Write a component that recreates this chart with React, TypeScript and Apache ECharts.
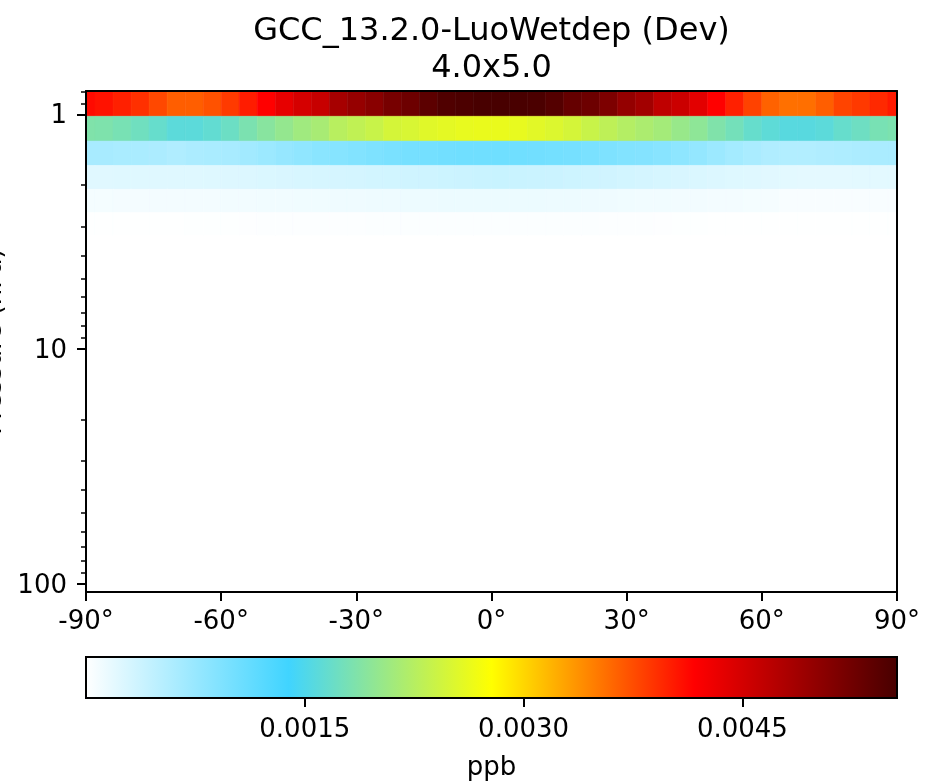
import React, { useEffect, useRef } from "react";
import * as echarts from "echarts";

const TITLE = "GCC_13.2.0-LuoWetdep (Dev)";
const SUBTITLE = "4.0x5.0";
const UNITS = "ppb";
const Y_NAME = "Pressure (hPa)";
const FONT = "DejaVu Sans";

// 4x5 grid latitude cell edges
const LAT_EDGES = [-90, -88, -84, -80, -76, -72, -68, -64, -60, -56, -52, -48, -44, -40, -36, -32, -28, -24, -20, -16, -12, -8, -4, 0, 4, 8, 12, 16, 20, 24, 28, 32, 36, 40, 44, 48, 52, 56, 60, 64, 68, 72, 76, 80, 84, 88, 90];
// model level pressure edges (hPa), top levels
const P_EDGES = [0.7951, 1.0194, 1.3005, 1.6508, 2.085, 2.6202, 3.2764];
const Y_MIN = 0.7951;
const Y_MAX = 108.663;
const X_TICKS_INTERVAL = 30;
const Y_MAJOR = [1, 10, 100];
const Y_MINOR = [0.8, 0.9, 2, 3, 4, 5, 6, 7, 8, 9, 20, 30, 40, 50, 60, 70, 80, 90];
const CBAR_TICKS = [0.0015, 0.003, 0.0045];
const VMIN = 0;
const VMAX = 0.00556;
const CMAP = ["#ffffff", "#40d4ff", "#ffff00", "#ff0000", "#480000"];

const ROW_1 = [0.004115, 0.004072, 0.003996, 0.003908, 0.003777, 0.003657, 0.003657, 0.003723, 0.003854, 0.004017, 0.00417, 0.004349, 0.004488, 0.004597, 0.004846, 0.00497, 0.005063, 0.005203, 0.00528, 0.005405, 0.005498, 0.005529, 0.00556, 0.00556, 0.00555, 0.00554, 0.005467, 0.005343, 0.00528, 0.005156, 0.004985, 0.004877, 0.004659, 0.004566, 0.00438, 0.00417, 0.003996, 0.00381, 0.003636, 0.00356, 0.003565, 0.003657, 0.003799, 0.003859, 0.003946, 0.004028];
const ROW_2 = [0.001856, 0.001841, 0.001798, 0.001739, 0.001667, 0.001594, 0.001594, 0.001637, 0.00171, 0.001819, 0.001914, 0.002001, 0.002089, 0.002147, 0.002263, 0.002322, 0.00238, 0.002467, 0.002496, 0.002554, 0.002584, 0.002613, 0.002627, 0.002627, 0.002613, 0.002569, 0.002525, 0.002467, 0.00238, 0.002307, 0.002234, 0.002176, 0.002118, 0.00203, 0.001958, 0.001856, 0.001768, 0.001667, 0.001608, 0.001565, 0.001565, 0.001594, 0.001667, 0.001725, 0.001798, 0.001827];
const ROW_3 = [0.000633, 0.000633, 0.000619, 0.000619, 0.000604, 0.000575, 0.000604, 0.000619, 0.000633, 0.000677, 0.000721, 0.000764, 0.000808, 0.000851, 0.000881, 0.00091, 0.000939, 0.000968, 0.000997, 0.001012, 0.001026, 0.001041, 0.001041, 0.001045, 0.00104, 0.001026, 0.001012, 0.000997, 0.000968, 0.000939, 0.00091, 0.000895, 0.000866, 0.000822, 0.000779, 0.000721, 0.000662, 0.000619, 0.000575, 0.00056, 0.00056, 0.000575, 0.000589, 0.000604, 0.000619, 0.000619];
const ROW_4 = [0.000226, 0.000226, 0.00023, 0.00023, 0.000232, 0.000235, 0.000235, 0.000238, 0.000245, 0.000255, 0.000269, 0.00028, 0.00029, 0.0003, 0.000308, 0.000313, 0.000325, 0.000338, 0.00035, 0.00036, 0.000371, 0.00038, 0.00039, 0.0004, 0.000395, 0.000388, 0.00038, 0.000365, 0.00035, 0.000342, 0.000325, 0.000313, 0.0003, 0.000284, 0.00027, 0.000258, 0.00024, 0.00023, 0.000215, 0.000205, 0.000196, 0.000196, 0.0002, 0.000205, 0.000205, 0.000205];
const ROW_5 = [0.00008, 0.00008, 0.000082, 0.000083, 0.000085, 0.000086, 0.000088, 0.00009, 0.000093, 0.000096, 0.0001, 0.000104, 0.000108, 0.000112, 0.000116, 0.00012, 0.000124, 0.000127, 0.00013, 0.000133, 0.000135, 0.000137, 0.000138, 0.000138, 0.000137, 0.000135, 0.000132, 0.000128, 0.000124, 0.000116, 0.000108, 0.000104, 0.0001, 0.000097, 0.000094, 0.00009, 0.000085, 0.00008, 0.000076, 0.00005, 0.00005, 0.00005, 0.00005, 0.00005, 0.00005, 0.00005];
const ROW_6 = [0.000004, 0.000004, 0.000004, 0.000004, 0.00001, 0.00001, 0.000012, 0.000014, 0.000016, 0.000018, 0.00002, 0.000021, 0.000022, 0.000023, 0.000024, 0.000025, 0.000026, 0.000027, 0.000028, 0.000028, 0.000028, 0.000029, 0.000029, 0.000029, 0.000029, 0.000028, 0.000028, 0.000027, 0.000026, 0.000025, 0.000022, 0.00002, 0.000018, 0.000016, 0.000012, 0.00001, 0.000008, 0.000008, 0.000006, 0.000006, 0.000006, 0.000006, 0.000006, 0.000006, 0.000006, 0.000006];
const ROWS = [ROW_1, ROW_2, ROW_3, ROW_4, ROW_5, ROW_6];

const HEAT_DATA: number[][] = [];
ROWS.forEach((row, r) => {
  row.forEach((v, c) => {
    HEAT_DATA.push([LAT_EDGES[c], LAT_EDGES[c + 1], P_EDGES[r], P_EDGES[r + 1], v]);
  });
});

const AXIS_LINE = { color: "#000", width: 2 };
const LABEL = { fontSize: 26, color: "#000", fontFamily: FONT };

export default function App() {
  const ref = useRef<HTMLDivElement>(null);
  useEffect(() => {
    document.body.style.margin = "0";
    const chart = echarts.init(ref.current as HTMLDivElement, null, { renderer: "svg" });
    const heatRender = (params: any, api: any) => {
      const a = api.coord([api.value(0), api.value(2)]);
      const b = api.coord([api.value(1), api.value(3)]);
      const color = api.visual("color");
      return {
        type: "rect",
        shape: {
          x: Math.min(a[0], b[0]),
          y: Math.min(a[1], b[1]),
          width: Math.abs(b[0] - a[0]),
          height: Math.abs(b[1] - a[1]),
        },
        style: { fill: color, stroke: color, lineWidth: 0.6 },
      };
    };
    const cbarRender = (params: any, api: any) => {
      const a = api.coord([api.value(0), 0]);
      const b = api.coord([api.value(1), 1]);
      const stops = CMAP.map((c, i) => ({ offset: i / (CMAP.length - 1), color: c }));
      return {
        type: "rect",
        shape: {
          x: Math.min(a[0], b[0]),
          y: Math.min(a[1], b[1]),
          width: Math.abs(b[0] - a[0]),
          height: Math.abs(b[1] - a[1]),
        },
        style: {
          fill: new echarts.graphic.LinearGradient(0, 0, 1, 0, stops),
          stroke: "#000",
          lineWidth: 2,
        },
      };
    };
    const option: any = {
      animation: false,
      textStyle: { fontFamily: FONT },
      title: {
        text: TITLE + "\n" + SUBTITLE,
        left: 491.5,
        top: 10,
        textAlign: "center",
        padding: 0,
        textStyle: { fontSize: 32, fontWeight: "normal", color: "#000", fontFamily: FONT, lineHeight: 37.5 },
      },
      grid: [
        { left: 86, right: 40, top: 91, bottom: 191, outerBoundsMode: "none", containLabel: false },
        { left: 86, right: 40, top: 657, height: 41, outerBoundsMode: "none", containLabel: false },
      ],
      visualMap: [
        { type: "continuous", show: false, seriesIndex: 0, dimension: 4, min: VMIN, max: VMAX, inRange: { color: CMAP } },
      ],
      xAxis: [
        {
          gridIndex: 0, type: "value", min: -90, max: 90, interval: X_TICKS_INTERVAL, position: "bottom", z: 10,
          axisLine: { show: true, onZero: false, lineStyle: AXIS_LINE },
          axisTick: { show: true, length: 9, lineStyle: AXIS_LINE },
          axisLabel: { ...LABEL, margin: 15, formatter: (v: number) => `${v}°` },
          splitLine: { show: false },
        },
        {
          gridIndex: 0, type: "value", min: -90, max: 90, position: "top", z: 10,
          axisLine: { show: true, onZero: false, lineStyle: AXIS_LINE },
          axisTick: { show: false }, axisLabel: { show: false }, splitLine: { show: false },
        },
        {
          gridIndex: 1, type: "value", min: VMIN, max: VMAX, position: "bottom", z: 10,
          axisLine: { show: false, onZero: false },
          axisTick: { show: true, length: 9, lineStyle: AXIS_LINE, customValues: CBAR_TICKS },
          axisLabel: { ...LABEL, margin: 17, customValues: CBAR_TICKS, formatter: (v: number) => v.toFixed(4) },
          splitLine: { show: false },
          name: UNITS, nameLocation: "middle", nameGap: 55, nameMoveOverlap: false,
          nameTextStyle: { ...LABEL },
        },
      ],
      yAxis: [
        {
          gridIndex: 0, type: "log", logBase: 10, min: Y_MIN, max: Y_MAX, inverse: true, position: "left", z: 10,
          axisLine: { show: true, onZero: false, lineStyle: AXIS_LINE },
          axisTick: { show: true, length: 9, lineStyle: AXIS_LINE, customValues: Y_MAJOR },
          axisLabel: { ...LABEL, margin: 19, customValues: Y_MAJOR, formatter: (v: number) => String(v) },
          splitLine: { show: false },
          name: Y_NAME, nameLocation: "middle", nameGap: 81.5, nameMoveOverlap: false,
          nameTextStyle: { ...LABEL },
        },
        {
          gridIndex: 0, type: "log", logBase: 10, min: Y_MIN, max: Y_MAX, inverse: true, position: "left", z: 10,
          axisLine: { show: false, onZero: false },
          axisTick: { show: true, length: 5, lineStyle: { color: "#000", width: 1.5 }, customValues: Y_MINOR },
          axisLabel: { show: false }, splitLine: { show: false },
        },
        {
          gridIndex: 0, type: "log", logBase: 10, min: Y_MIN, max: Y_MAX, inverse: true, position: "right", z: 10,
          axisLine: { show: true, onZero: false, lineStyle: AXIS_LINE },
          axisTick: { show: false }, axisLabel: { show: false }, splitLine: { show: false },
        },
        { gridIndex: 1, type: "value", min: 0, max: 1, show: false },
      ],
      series: [
        {
          type: "custom", name: "field", xAxisIndex: 0, yAxisIndex: 0,
          dimensions: ["lat0", "lat1", "p0", "p1", "value"],
          encode: { x: [0, 1], y: [2, 3], tooltip: 4 },
          renderItem: heatRender, data: HEAT_DATA, clip: true,
        },
        {
          type: "custom", name: "colorbar", xAxisIndex: 2, yAxisIndex: 3,
          encode: { x: [0, 1] },
          renderItem: cbarRender, data: [[VMIN, VMAX]], clip: false,
        },
      ],
    };
    chart.setOption(option);
    return () => chart.dispose();
  }, []);
  return <div ref={ref} style={{ position: "fixed", left: 0, top: 0, width: 937, height: 783 }} />;
}
